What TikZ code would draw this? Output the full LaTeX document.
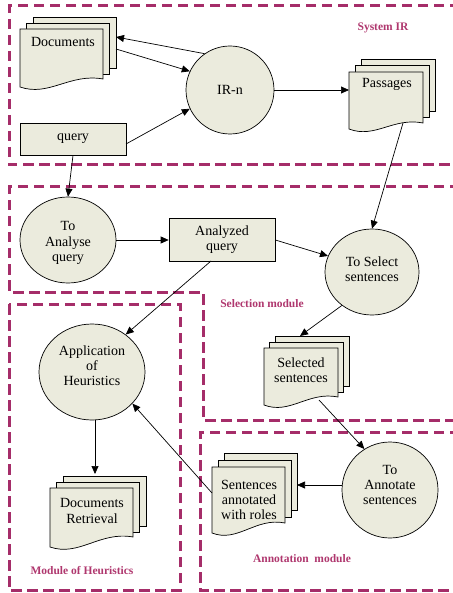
\documentclass[tikz,border=0pt]{standalone}
\usepackage{fontspec}
\setmainfont{Liberation Serif}
\usetikzlibrary{arrows.meta,shapes.geometric}
\definecolor{shapefill}{RGB}{235,235,221}
\definecolor{modline}{RGB}{165,45,105}
\definecolor{modtext}{RGB}{175,55,110}
\newcommand\docstack[8]{% name, L, T, R, Bl, Br, dx, dy
  \foreach \k in {2,1} {
    \filldraw[docline] ({#2+#7*\k},{#3-#8*\k}) rectangle ({#4+#7*\k},{#6-#8*\k+1});
  }
  \filldraw[docline] (#2,#3) -- (#4,#3) -- (#4,#6)
    .. controls ({#2+0.6*(#4-#2)},{#6-6}) and ({#2+0.35*(#4-#2)},{#5+10}) .. (#2,#5) -- cycle;
}
\begin{document}
\begin{tikzpicture}[x=1pt,y=-1pt,
  docline/.style={draw=black,fill=shapefill,line width=0.7pt},
  txt/.style={font=\fontsize{14}{15.2}\selectfont,align=center,inner sep=0pt},
  shp/.style={draw=black,fill=shapefill,line width=0.7pt,inner sep=0pt},
  boxn/.style={shp,font=\fontsize{14}{15.2}\selectfont,align=center},
  modbox/.style={draw=modline,line width=3pt,dash pattern=on 10.5pt off 5.5pt},
  modlabel/.style={text=modtext,font=\fontsize{11.5}{13}\selectfont\bfseries,inner sep=0pt},
  arr/.style={-{Triangle[length=8pt,width=7pt]},line width=0.7pt},
]
\useasboundingbox (0,0) rectangle (452,593);
% module boxes
\draw[modbox] (460,6) -- (9,6) -- (9,165) -- (460,165);
\draw[modbox] (460,187) -- (9,187) -- (9,292) -- (203,292) -- (203,420) -- (460,420);
\draw[modbox] (9,304) rectangle (180,590);
\draw[modbox] (460,432) -- (200,432) -- (200,590) -- (460,590);
\node[modlabel] (lsys) at (383,28) {System IR};
\node[modlabel] (lsel) at (262,304) {Selection module};
\node[modlabel] (lann) at (302,559) {Annotation\ \ module};
\node[modlabel] (lheu) at (82,571) {Module of Heuristics};

% document stacks
\docstack{docs}{20}{29}{103}{87}{79}{6.5}{6}
\node[txt] (docs) at (63,42) {Documents};
\docstack{pass}{349}{72}{423}{129}{123}{6}{6.5}
\node[txt] (pass) at (387,84) {Passages};
\docstack{sel}{264}{348}{338}{405}{397}{5.5}{6}
\node[txt] (sel) at (301,370) {Selected\\sentences};
\docstack{ret}{50}{488}{133}{547}{537}{6.5}{6}
\node[txt] (ret) at (92,511) {Documents\\Retrieval};
\docstack{ann}{212}{467}{285}{533}{523}{6}{7}
\node[txt] (ann) at (249,500) {Sentences\\annotated\\with roles};

% circles / ellipses
\node[boxn,shape=circle,minimum size=88pt] (irn) at (230,90) {IR-n};
\node[shp,shape=ellipse,minimum width=96pt,minimum height=86pt] (toan) at (68,240) {};
\node[txt] (toant) at (68,243) {To\\Analyse\\query};
\node[shp,shape=ellipse,minimum width=94pt,minimum height=86pt] (tosel) at (372,272) {};
\node[txt] (toselt) at (372,269) {To Select\\sentences};
\node[shp,shape=ellipse,minimum width=106pt,minimum height=96pt] (app) at (92,372) {};
\node[txt] (appt) at (92,366) {Application\\of\\Heuristics};
\node[shp,shape=ellipse,minimum width=96pt,minimum height=96pt] (toann) at (390,490) {};
\node[txt] (toannt) at (390,485) {To\\Annotate\\sentences};

% rectangles
\node[boxn,minimum width=106pt,minimum height=32pt] (query) at (73,139) {query};
\node[boxn,minimum width=106pt,minimum height=43pt] (anq) at (222,240) {Analyzed\\query};

% anchor coordinates
\coordinate (docsR1) at (116,37);
\coordinate (docsR2) at (116,49);
\coordinate (passL) at (349,90);
\coordinate (passB) at (403,123);
\coordinate (selT) at (300,336);
\coordinate (selB) at (319,400);
\coordinate (annR) at (297,485);
\coordinate (annL) at (212,493);
\coordinate (retT) at (95,474);
\coordinate (queryE) at (126,144);
\coordinate (anqS) at (211,261);
\coordinate (toannW) at (342,485);
\coordinate (appS) at (95,420);

% connectors
\draw[arr] (irn.125) -- (docsR1);
\draw[arr] (docsR2) -- (irn.155);
\draw[arr] (queryE) -- (irn.205);
\draw[arr] (irn.east) -- (passL);
\draw[arr] (query.south) -- (toan.north);
\draw[arr] (passB) -- (tosel.north);
\draw[arr] (toan.east) -- (anq.west);
\draw[arr] (anq.east) -- (tosel.160);
\draw[arr] (anqS) -- (app.48);
\draw[arr] (tosel.228) -- (selT);
\draw[arr] (selB) -- (toann.122);
\draw[arr] (toannW) -- (annR);
\draw[arr] (annL) -- (app.-38);
\draw[arr] (appS) -- (retT);
\end{tikzpicture}
\end{document}
